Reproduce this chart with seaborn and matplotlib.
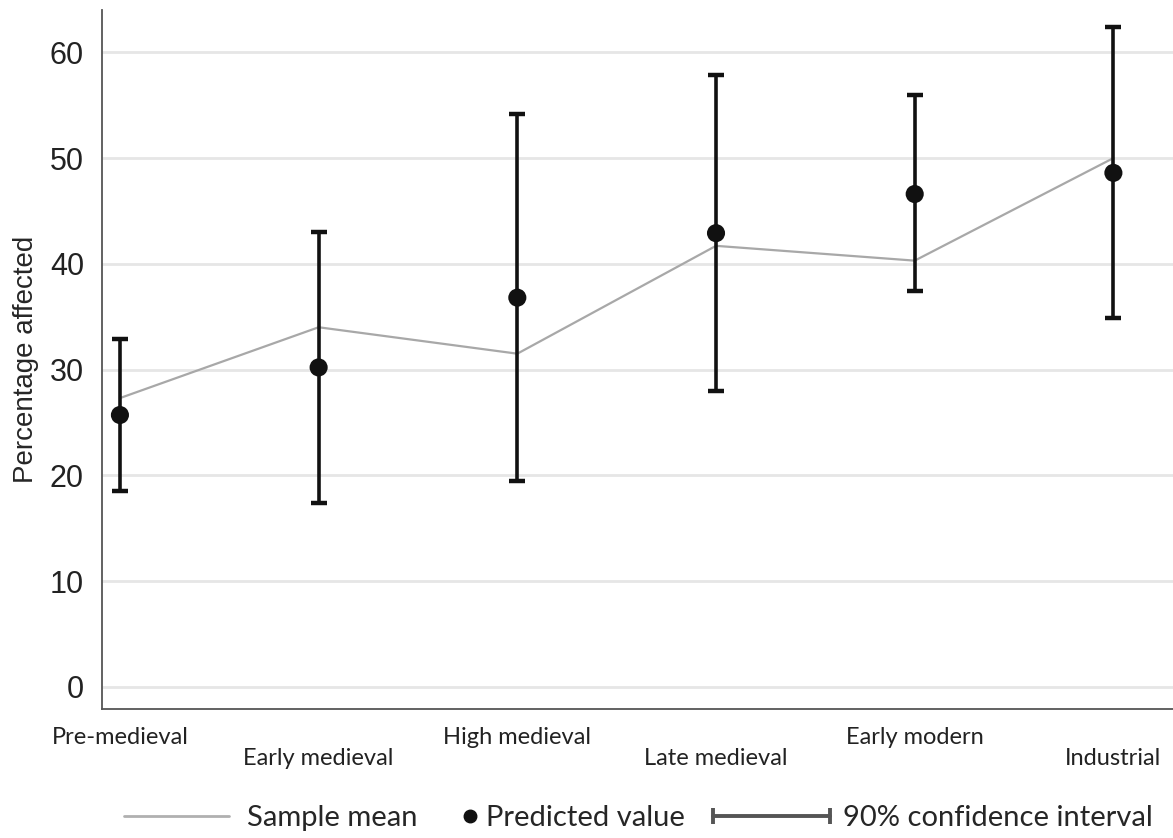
import numpy as np
import pandas as pd
import seaborn as sns
import matplotlib.pyplot as plt
from matplotlib.lines import Line2D
from matplotlib.legend_handler import HandlerLine2D

# Values
periods = ['Pre-medieval', 'Early medieval', 'High medieval', 'Late medieval', 'Early modern', 'Industrial']
sample_mean = [27.3, 34.0, 31.5, 41.7, 40.3, 50.0]
predicted = [25.7, 30.2, 36.8, 42.9, 46.6, 48.6]
ci_low = [18.5, 17.4, 19.5, 28.0, 37.4, 34.9]
ci_high = [32.9, 43.0, 54.2, 57.9, 56.0, 62.4]
y_ticks = [0, 10, 20, 30, 40, 50, 60]

df = pd.DataFrame({'period': periods, 'pos': np.arange(len(periods)),
                   'mean': sample_mean, 'pred': predicted, 'lo': ci_low, 'hi': ci_high})

sns.set_theme(style='white')
plt.rcParams['font.family'] = ['Lato', 'DejaVu Sans']

fig = plt.figure(figsize=(11.73, 8.38), dpi=100)
ax = fig.add_axes([0.087, 0.154, 0.913, 0.834])

# light horizontal grid
ax.yaxis.grid(True, color='#e6e6e6', linewidth=2)
ax.set_axisbelow(True)

# sample mean line
sns.lineplot(data=df, x='pos', y='mean', color='#a8a8a8', linewidth=1.6, ax=ax, legend=False)

# confidence intervals + predicted values
ax.errorbar(df['pos'], df['pred'], yerr=[df['pred'] - df['lo'], df['hi'] - df['pred']],
            fmt='none', ecolor='#111111', elinewidth=2.6, capsize=6, capthick=3.2, zorder=3)
sns.scatterplot(data=df, x='pos', y='pred', color='#111111', s=170, edgecolor='none',
                zorder=4, ax=ax, legend=False)

ax.set_xlim(-0.09, 5.30)
ax.set_ylim(-2.1, 64.0)

# staggered x labels
ax.set_xticks(df['pos'])
ax.set_xticklabels([p if i % 2 == 0 else '\n' + p for i, p in enumerate(periods)],
                   fontsize=17, linespacing=1.0)
ax.set_yticks(y_ticks)
ax.set_yticklabels([str(t) for t in y_ticks], family=['Liberation Sans', 'DejaVu Sans'], fontsize=22)
ax.set_xlabel('')
ax.set_ylabel('Percentage affected', family=['Liberation Sans', 'DejaVu Sans'], fontsize=20, labelpad=8)

sns.despine(ax=ax)
for s in ['left', 'bottom']:
    ax.spines[s].set_color('#555555')
    ax.spines[s].set_linewidth(1.3)
ax.tick_params(axis='both', direction='out', length=8, width=1.3, color='#555555', colors='#222222')
ax.tick_params(axis='x', pad=5)
ax.tick_params(axis='y', pad=5)

# legend: three pieces so each key gets its own width
h_mean = Line2D([], [], color='#b0b0b0', linewidth=2)
h_pred = Line2D([], [], color='#111111', linestyle='none', marker='o', markersize=9)
h_ci = Line2D([], [], color='#555555', linewidth=2.8, marker='|', markersize=12, markeredgewidth=2.8)

common = dict(frameon=False, fontsize=21, loc='center left', borderaxespad=0, borderpad=0)
fig.legend(handles=[h_mean], labels=['Sample mean'], bbox_to_anchor=(0.106, 0.024),
           handlelength=3.6, handletextpad=0.6, **common)
fig.legend(handles=[h_pred], labels=['Predicted value'], bbox_to_anchor=(0.393, 0.024),
           handlelength=0.6, handletextpad=0.25, **common)
fig.legend(handles=[h_ci], labels=['90% confidence interval'], bbox_to_anchor=(0.608, 0.024),
           handlelength=4.0, handletextpad=0.45,
           handler_map={h_ci: HandlerLine2D(numpoints=2, marker_pad=0)}, **common)

fig.savefig('out.png', dpi=100)
